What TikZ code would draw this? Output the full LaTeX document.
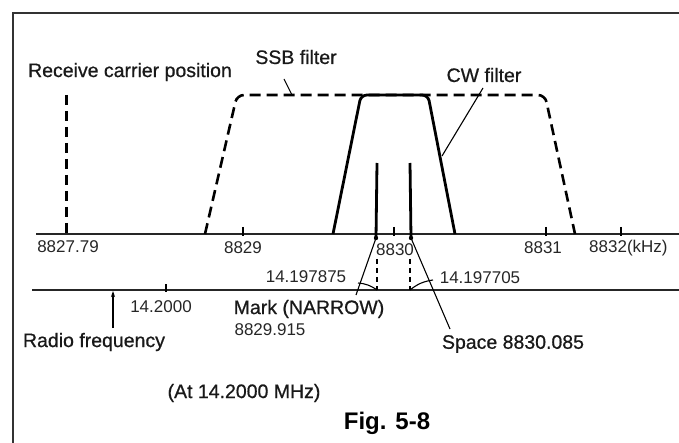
\documentclass[tikz,border=0pt]{standalone}
\usepackage{fontspec}
\setmainfont{Liberation Sans}
\newfontfamily\labfont{Liberation Sans}[FakeBold=0.7]
\usetikzlibrary{arrows.meta}
\begin{document}
\begin{tikzpicture}[x=1pt,y=-1pt,
  lbl/.style={inner sep=0pt, text=black!90, font=\labfont\fontsize{19.5}{22}\selectfont},
  num/.style={inner sep=0pt, text=black!85, font=\fontsize{17}{20}\selectfont},
  figlbl/.style={inner sep=0pt, text=black, font=\fontsize{24}{28}\selectfont\bfseries},
  frameline/.style={line width=1.3pt, black!80},
  axisline/.style={line width=1.4pt, black!85},
  ssbline/.style={line width=2.6pt, dash pattern=on 11pt off 6pt, rounded corners=7pt},
  carrier/.style={line width=3pt, dash pattern=on 10pt off 6pt},
  cwline/.style={line width=2.8pt, rounded corners=6pt},
  sigline/.style={line width=2.8pt},
  leader/.style={line width=1.1pt},
  dashlead/.style={line width=1.2pt, dash pattern=on 5pt off 4pt},
  tick/.style={line width=1.1pt},
  ]
\useasboundingbox (0,0) rectangle (679,443);
% frame
\draw[frameline] (13,443) -- (13,13) -- (679,13);
% axes
\coordinate (kA) at (36,234);  \coordinate (kB) at (679,234);
\coordinate (rA) at (32,290);  \coordinate (rB) at (679,290);
\draw[axisline] (kA) -- (kB);
\draw[axisline] (rA) -- (rB);
% ticks on kHz axis
\foreach \x in {243,394,546,621} \draw[tick] (\x,227) -- (\x,236);
% tick on RF axis
\draw[tick] (166,284) -- (166,292);
% receive carrier
\coordinate (rc1) at (66,95); \coordinate (rc2) at (66,234);
\draw[carrier] (rc1) -- (rc2);
% SSB filter
\draw[ssbline] (205,234) -- (237,95) -- (545,95) -- (575,234);
% CW filter
\draw[cwline] (333,234) -- (361,95) -- (428,95) -- (455,234);
% mark and space
\coordinate (m1) at (377,163); \coordinate (m2) at (376,238);
\coordinate (s1) at (410,163); \coordinate (s2) at (411,238);
\draw[sigline] (m1) -- (m2);
\draw[sigline] (s1) -- (s2);
\fill (m2) circle (2.2pt);
\fill (s2) circle (2.2pt);
% dashed projections
\coordinate (mr) at (377,290); \coordinate (sr) at (410,290);
\draw[dashlead] (377,259) -- (mr);
\draw[dashlead] (410,259) -- (sr);
% labels
\node[lbl] (rcp) at (130,72) {Receive carrier position};
\node[lbl] (ssb) at (296,57) {SSB filter};
\node[lbl] (cw) at (484,75) {CW filter};
\node[num] (f1) at (68,247) {8827.79};
\node[num] (f2) at (243,248) {8829};
\node[num] (f3) at (395,250) {8830};
\node[num] (f4) at (543,248) {8831};
\node[num, anchor=west] (f5) at (589,248) {8832(kHz)};
\node[num] (rf1) at (306,277) {14.197875};
\node[num] (rf2) at (480,278) {14.197705};
\node[num] (rf0) at (161,307) {14.2000};
\node[lbl] (radio) at (94,342) {Radio frequency};
\node[lbl] (mark) at (309,309) {Mark (NARROW)};
\node[num] (markf) at (270,330) {8829.915};
\node[lbl] (space) at (513,344) {Space 8830.085};
\node[lbl] (at) at (244,393) {(At 14.2000 MHz)};
\node[figlbl] (fig) at (387,423) {Fig. 5-8};
% leaders
\coordinate (ssbA) at (284,79); \coordinate (ssbB) at (292,95);
\draw[leader] (ssbA) -- (ssbB);
\coordinate (cwA) at (483,88); \coordinate (cwB) at (442,156);
\draw[leader] (cwA) -- (cwB);
\coordinate (markE) at (356,295);
\draw[leader] (m2) -- (markE);
\coordinate (spaceE) at (450,329);
\draw[leader] (s2) -- (spaceE);
\coordinate (rf1E) at (358,283);
\draw[leader] (rf1E) to[bend left=15] (mr);
\coordinate (rf2E) at (433,280);
\draw[leader] (sr) to[bend left=15] (rf2E);
% radio frequency arrow
\coordinate (rfA) at (113,328); \coordinate (rfB) at (113,291);
\draw[leader, -{Stealth[length=6pt,width=4pt]}] (rfA) -- (rfB);
\end{tikzpicture}
\end{document}
